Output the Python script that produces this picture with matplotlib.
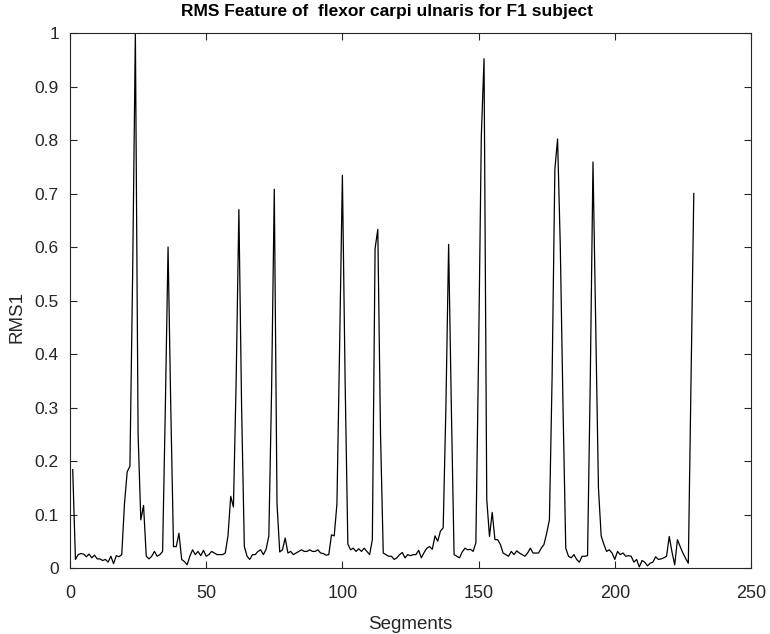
import matplotlib
matplotlib.use("Agg")
import matplotlib.pyplot as plt
import numpy as np

# RMS values per segment (segments 1..229)
rms1 = [
    0.184, 0.016, 0.025, 0.027, 0.026, 0.021, 0.026, 0.019, 0.024, 0.017,
    0.017, 0.014, 0.016, 0.011, 0.022, 0.008, 0.023, 0.021, 0.025, 0.12,
    0.18, 0.19, 0.55, 1.0, 0.25, 0.09, 0.117, 0.022, 0.017, 0.022,
    0.031, 0.022, 0.025, 0.031, 0.3, 0.60, 0.3, 0.04, 0.04, 0.065,
    0.016, 0.012, 0.006, 0.022, 0.034, 0.025, 0.031, 0.023, 0.033, 0.022,
    0.025, 0.031, 0.028, 0.025, 0.025, 0.025, 0.028, 0.06, 0.134, 0.114,
    0.35, 0.67, 0.3, 0.04, 0.022, 0.016, 0.025, 0.025, 0.031, 0.034,
    0.025, 0.035, 0.06, 0.33, 0.708, 0.12, 0.03, 0.034, 0.056, 0.028,
    0.031, 0.025, 0.028, 0.031, 0.034, 0.031, 0.031, 0.034, 0.031, 0.031,
    0.034, 0.028, 0.027, 0.024, 0.025, 0.062, 0.06, 0.12, 0.42, 0.734,
    0.35, 0.045, 0.034, 0.037, 0.031, 0.036, 0.031, 0.037, 0.031, 0.025,
    0.053, 0.597, 0.633, 0.25, 0.028, 0.025, 0.022, 0.022, 0.016, 0.019,
    0.025, 0.029, 0.019, 0.025, 0.023, 0.025, 0.025, 0.033, 0.019, 0.029,
    0.037, 0.04, 0.035, 0.06, 0.05, 0.069, 0.075, 0.3, 0.605, 0.3,
    0.025, 0.022, 0.019, 0.03, 0.037, 0.034, 0.035, 0.031, 0.047, 0.4,
    0.807, 0.952, 0.128, 0.059, 0.104, 0.053, 0.053, 0.044, 0.028, 0.025,
    0.022, 0.031, 0.025, 0.032, 0.028, 0.025, 0.022, 0.028, 0.037, 0.028,
    0.028, 0.028, 0.037, 0.044, 0.065, 0.09, 0.36, 0.745, 0.802, 0.6,
    0.3, 0.037, 0.022, 0.019, 0.025, 0.016, 0.011, 0.022, 0.022, 0.023,
    0.35, 0.759, 0.45, 0.15, 0.06, 0.044, 0.031, 0.034, 0.028, 0.016,
    0.031, 0.025, 0.028, 0.022, 0.023, 0.022, 0.011, 0.016, 0.002, 0.014,
    0.011, 0.004, 0.009, 0.011, 0.021, 0.016, 0.017, 0.019, 0.022, 0.059,
    0.03, 0.006, 0.053, 0.04, 0.028, 0.018, 0.009, 0.36, 0.70,
]
segments = np.arange(1, len(rms1) + 1)

x_ticks = [0, 50, 100, 150, 200, 250]
y_ticks = [0, 0.1, 0.2, 0.3, 0.4, 0.5, 0.6, 0.7, 0.8, 0.9, 1]
y_tick_labels = ["0", "0.1", "0.2", "0.3", "0.4", "0.5", "0.6", "0.7", "0.8", "0.9", "1"]

plt.rcParams['font.family'] = ['Liberation Sans', 'DejaVu Sans']
axis_color = '#262626'

fig = plt.figure(figsize=(7.7, 6.34), dpi=100)
ax = fig.add_axes([0.0909, 0.1041, 0.8844, 0.8438])  # [left, bottom, width, height]

ax.plot(segments, rms1, color='black', linewidth=0.9)

ax.set_xlim(0, 250)
ax.set_ylim(0, 1)
ax.set_xticks(x_ticks)
ax.set_yticks(y_ticks)
ax.set_yticklabels(y_tick_labels)

# MATLAB-style box with inward ticks on all sides
ax.tick_params(direction='in', length=5, width=0.8, top=True, right=True,
               colors=axis_color)
ax.tick_params(axis='x', labelsize=13, pad=12)
ax.tick_params(axis='y', labelsize=12.5, pad=8)
for s in ax.spines.values():
    s.set_color(axis_color)
    s.set_linewidth(0.8)

ax.set_title("RMS Feature of  flexor carpi ulnaris for F1 subject",
             fontsize=12.5, fontweight='bold', pad=12, x=0.465)
ax.set_xlabel("Segments", fontsize=13.5, color=axis_color, labelpad=10)
ax.set_ylabel("RMS1", fontsize=13.5, color=axis_color)
ax.yaxis.set_label_coords(-0.066, 0.47)

fig.savefig("out.png", dpi=100)
